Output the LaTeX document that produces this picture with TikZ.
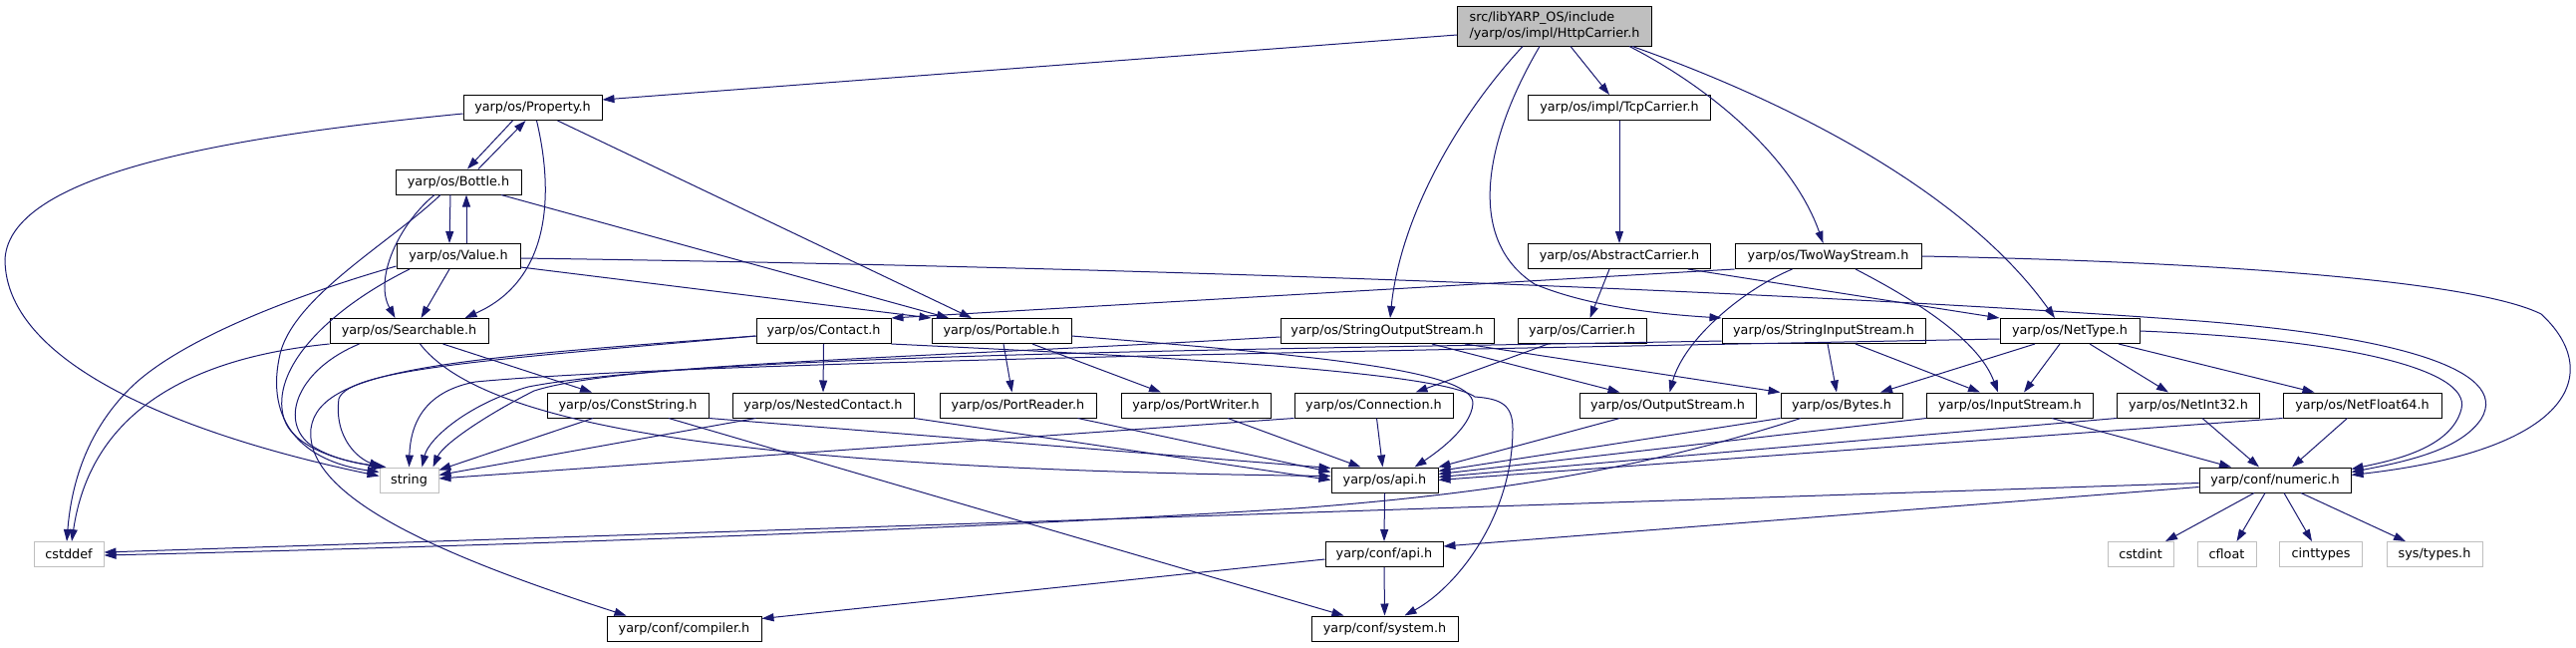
\documentclass[tikz,border=0pt]{standalone}
\usepackage{fontspec}
\setmainfont{DejaVu Sans}
\usetikzlibrary{arrows.meta}
\definecolor{edgec}{HTML}{191970}
\definecolor{grayb}{HTML}{BFBFBF}
\begin{document}
\begin{tikzpicture}[x=1pt,y=-1pt,
  box/.style={draw=black, line width=1pt, fill=white, minimum height=25pt, inner sep=0pt, font=\fontsize{12.8}{15.5}\selectfont},
  ext/.style={box, draw=grayb},
  e/.style={draw=edgec, line width=1pt, -{Triangle[length=12pt,width=8pt]}}]
\useasboundingbox (0,0) rectangle (2585,649);
% nodes
\node[box, fill=grayb, minimum width=195pt, minimum height=40pt, align=left] (http) at (1560,26) {src/libYARP\_OS/include\\/yarp/os/impl/HttpCarrier.h};
\node[box, minimum width=139pt] (prop) at (534.5,108) {yarp/os/Property.h};
\node[box, minimum width=126pt] (bottle) at (460,182.5) {yarp/os/Bottle.h};
\node[box, minimum width=124pt] (value) at (460,257) {yarp/os/Value.h};
\node[box, minimum width=159pt] (search) at (410.5,332) {yarp/os/Searchable.h};
\node[box, minimum width=135pt] (contact) at (826.5,332) {yarp/os/Contact.h};
\node[box, minimum width=140pt] (portable) at (1005,332) {yarp/os/Portable.h};
\node[box, minimum width=214pt] (sos) at (1392,332) {yarp/os/StringOutputStream.h};
\node[box, minimum width=129pt] (carrier) at (1587.5,332) {yarp/os/Carrier.h};
\node[box, minimum width=204pt] (sis) at (1830,332) {yarp/os/StringInputStream.h};
\node[box, minimum width=140pt] (nettype) at (2077,332) {yarp/os/NetType.h};
\node[box, minimum width=183pt] (tcp) at (1625,108) {yarp/os/impl/TcpCarrier.h};
\node[box, minimum width=183pt] (abstract) at (1625,257) {yarp/os/AbstractCarrier.h};
\node[box, minimum width=187pt] (twoway) at (1834.5,257) {yarp/os/TwoWayStream.h};
\node[box, minimum width=162pt] (conststr) at (630,406.5) {yarp/os/ConstString.h};
\node[box, minimum width=182pt] (nested) at (826,406.5) {yarp/os/NestedContact.h};
\node[box, minimum width=157pt] (preader) at (1021.5,406.5) {yarp/os/PortReader.h};
\node[box, minimum width=150pt] (pwriter) at (1200,406.5) {yarp/os/PortWriter.h};
\node[box, minimum width=159pt] (conn) at (1378.5,406.5) {yarp/os/Connection.h};
\node[box, minimum width=177pt] (ostream) at (1673.5,406.5) {yarp/os/OutputStream.h};
\node[box, minimum width=122pt] (bytes) at (1848,406.5) {yarp/os/Bytes.h};
\node[box, minimum width=167pt] (istream) at (2017,406.5) {yarp/os/InputStream.h};
\node[box, minimum width=143pt] (netint) at (2196,406.5) {yarp/os/NetInt32.h};
\node[box, minimum width=159pt] (netfloat) at (2370.5,406.5) {yarp/os/NetFloat64.h};
\node[ext, minimum width=59pt] (string) at (410.5,481.5) {string};
\node[box, minimum width=107pt] (osapi) at (1389.5,481.5) {yarp/os/api.h};
\node[box, minimum width=152pt] (numeric) at (2283,481.5) {yarp/conf/numeric.h};
\node[ext, minimum width=70pt] (cstddef) at (69,556) {cstddef};
\node[box, minimum width=118pt] (confapi) at (1389,556) {yarp/conf/api.h};
\node[ext, minimum width=66pt] (cstdint) at (2148,556) {cstdint};
\node[ext, minimum width=59pt] (cfloat) at (2234.5,556) {cfloat};
\node[ext, minimum width=83pt] (cinttypes) at (2329,556) {cinttypes};
\node[ext, minimum width=96pt] (systypes) at (2443,556) {sys/types.h};
\node[box, minimum width=155pt] (compiler) at (686.5,630.5) {yarp/conf/compiler.h};
\node[box, minimum width=147pt] (system) at (1389.5,630.5) {yarp/conf/system.h};
% edges from HttpCarrier
\draw[e] ([yshift=-9pt]http.west) -- ([yshift=8pt]prop.east);
\draw[e] ([xshift=-32pt]http.south) .. controls (1460,120) and (1405,220) .. ([xshift=3pt]sos.north);
\draw[e] ([xshift=-15pt]http.south) .. controls (1490,140) and (1470,240) .. (1540,285) .. controls (1600,310) and (1680,316) .. (sis.north west);
\draw[e] ([xshift=16pt]http.south) -- ([xshift=-10pt]tcp.north);
\draw[e] ([xshift=75pt]http.south) .. controls (1720,90) and (1800,160) .. ([xshift=-5pt]twoway.north);
\draw[e] ([xshift=78pt]http.south) .. controls (1790,100) and (1970,190) .. ([xshift=-15pt]nettype.north);
% Property
\draw[e] ([xshift=-20pt]prop.south) -- ([xshift=9pt]bottle.north);
\draw[e] ([xshift=20pt]bottle.north) -- ([xshift=-7pt]prop.south);
\draw[e] ([yshift=-6pt]prop.west) .. controls (250,135) and (10,170) .. (5,260) .. controls (5,370) and (200,440) .. ([yshift=4pt]string.west);
\draw[e] ([xshift=4pt]prop.south) .. controls (555,190) and (555,280) .. ([xshift=56pt]search.north);
\draw[e] ([xshift=25pt]prop.south) -- ([xshift=-30pt]portable.north);
% Bottle
\draw[e] ([xshift=-8pt]bottle.south) -- ([xshift=-9pt]value.north);
\draw[e] ([xshift=8pt]value.north) -- ([xshift=8pt]bottle.south);
\draw[e] ([xshift=-24pt]bottle.south) .. controls (400,225) and (375,280) .. ([xshift=-14pt]search.north);
\draw[e] ([xshift=-18pt]bottle.south) .. controls (390,245) and (290,300) .. (280,360) .. controls (268,420) and (300,462) .. ([yshift=8pt]string.west);
\draw[e] ([xshift=43pt]bottle.south) -- ([xshift=-53pt]portable.north);
% Value
\draw[e] ([xshift=-9pt]value.south) -- ([xshift=12pt]search.north);
\draw[e] ([yshift=2pt]value.south east) -- (portable.north west);
\draw[e] ([xshift=-49pt]value.south) .. controls (330,310) and (270,370) .. (285,420) .. controls (295,450) and (345,463) .. ([xshift=4pt]string.north west);
\draw[e] ([yshift=3pt]value.south west) .. controls (300,295) and (180,340) .. (130,390) .. controls (90,430) and (72,480) .. ([xshift=-2pt]cstddef.north);
\draw[e] ([yshift=-2pt]value.east) .. controls (1300,270) and (1900,300) .. (2180,320) .. controls (2400,335) and (2520,370) .. (2490,420) .. controls (2470,450) and (2420,462) .. ([yshift=8pt]numeric.east);
% Searchable
\draw[e] ([xshift=34pt]search.south) -- ([xshift=-36pt]conststr.north);
\draw[e] ([xshift=11pt]search.south) .. controls (480,420) and (700,470) .. ([yshift=4pt]osapi.west);
\draw[e] (search.south west) .. controls (180,360) and (90,420) .. ([xshift=3pt]cstddef.north);
\draw[e] ([xshift=-50pt]search.south) .. controls (300,370) and (280,420) .. (310,445) .. controls (330,460) and (360,465) .. ([xshift=7pt]string.north west);
% Contact
\draw[e] (contact.south) -- (nested.north);
\draw[e] ([yshift=-5pt]contact.west) .. controls (500,360) and (350,370) .. (340,400) .. controls (335,440) and (360,460) .. ([xshift=2pt]string.north west);
\draw[e] ([yshift=-5pt]contact.west) .. controls (450,360) and (320,370) .. (312,430) .. controls (305,500) and (450,560) .. ([xshift=-58pt]compiler.north);
\draw[e] (contact.south east) .. controls (1100,355) and (1440,370) .. (1480,398) .. controls (1505,400) and (1518,405) .. (1518,430) .. controls (1518,520) and (1460,590) .. ([xshift=20pt]system.north);
% Portable
\draw[e] ([yshift=-5pt]portable.east) .. controls (1300,355) and (1480,370) .. (1478,405) .. controls (1476,430) and (1440,455) .. ([xshift=30pt]osapi.north);
\draw[e] ([xshift=2pt]portable.south) -- ([xshift=-6pt]preader.north);
\draw[e] ([xshift=31pt]portable.south) -- ([xshift=-35pt]pwriter.north);
% third row
\draw[e] ([xshift=60pt]preader.south) -- ([yshift=8pt]osapi.west);
\draw[e] ([xshift=32pt]pwriter.south) -- ([xshift=-24pt]osapi.north);
\draw[e] (nested.south east) -- (osapi.west);
\draw[e] ([xshift=24pt]nested.south west) -- ([yshift=5pt]string.east);
\draw[e] ([xshift=-35pt]conststr.south) -- ([yshift=-3pt]string.north east);
\draw[e] (conststr.south east) -- ([yshift=12pt]osapi.west);
\draw[e] ([xshift=41pt]conststr.south) -- ([xshift=-41pt]system.north);
\draw[e] ([xshift=3pt]conn.south) -- ([xshift=-2pt]osapi.north);
\draw[e] (conn.south west) -- ([yshift=1.5pt]string.east);
% Carrier chain
\draw[e] ([xshift=-34pt]carrier.south) -- ([xshift=42pt]conn.north);
\draw[e] ([xshift=-10pt]abstract.south) -- ([xshift=8pt]carrier.north);
\draw[e] ([xshift=69pt]abstract.south) -- (nettype.north west);
\draw[e] (tcp.south) -- (abstract.north);
% TwoWayStream
\draw[e] (twoway.south west) -- (contact.north east);
\draw[e] ([xshift=-36pt]twoway.south) .. controls (1750,290) and (1690,340) .. ([xshift=2pt]ostream.north);
\draw[e] ([xshift=27.5pt]twoway.south) .. controls (1920,300) and (1985,340) .. ([xshift=-12pt]istream.north);
\draw[e] (twoway.east) .. controls (2200,262) and (2480,280) .. (2550,315) .. controls (2610,370) and (2590,450) .. ([yshift=5pt]numeric.east);
% StringOutputStream
\draw[e] ([xshift=45pt]sos.south) -- ([xshift=-48pt]ostream.north);
\draw[e] ([xshift=78pt]sos.south) -- (bytes.north west);
\draw[e] ([yshift=-6pt]sos.west) .. controls (900,360) and (620,365) .. (536,392) .. controls (490,415) and (445,445) .. ([xshift=24pt]string.north);
% StringInputStream
\draw[e] ([xshift=4pt]sis.south) -- ([xshift=-5pt]bytes.north);
\draw[e] ([xshift=32pt]sis.south) -- ([xshift=-30pt]istream.north);
\draw[e] ([yshift=-10pt]sis.west) .. controls (1300,350) and (700,355) .. (530,388) .. controls (470,405) and (430,440) .. ([xshift=13pt]string.north);
% NetType
\draw[e] ([yshift=-8pt]nettype.west) .. controls (1500,350) and (700,362) .. (477,383) .. controls (430,392) and (412,420) .. (string.north);
\draw[e] ([xshift=-35pt]nettype.south) -- ([xshift=39pt]bytes.north);
\draw[e] ([xshift=-10pt]nettype.south) -- ([xshift=14pt]istream.north);
\draw[e] ([xshift=20pt]nettype.south) -- ([xshift=-20pt]netint.north);
\draw[e] ([xshift=49pt]nettype.south) -- ([xshift=-48pt]netfloat.north);
\draw[e] (nettype.east) .. controls (2350,340) and (2480,370) .. (2470,410) .. controls (2460,450) and (2400,462) .. ([yshift=11pt]numeric.east);
% row 3 right
\draw[e] (bytes.south west) -- ([yshift=9pt]osapi.east);
\draw[e] ([xshift=-41pt]bytes.south) .. controls (1650,470) and (1500,495) .. (1300,510) .. controls (900,535) and (400,550) .. ([yshift=-1pt]cstddef.east);
\draw[e] ([yshift=-3pt]numeric.west) -- ([yshift=2pt]cstddef.east);
\draw[e] ([yshift=-7pt]numeric.west) -- ([yshift=8pt]confapi.east);
\draw[e] (istream.south west) -- ([yshift=6pt]osapi.east);
\draw[e] ([xshift=42pt]istream.south) -- ([xshift=-44pt]numeric.north);
\draw[e] (netint.south west) -- ([yshift=3pt]osapi.east);
\draw[e] ([xshift=14pt]netint.south) -- ([xshift=-16pt]numeric.north);
\draw[e] (netfloat.south west) -- (osapi.east);
\draw[e] ([xshift=-15pt]netfloat.south) -- ([xshift=17pt]numeric.north);
\draw[e] ([xshift=-48pt]ostream.south) -- (osapi.north east);
% numeric leaves
\draw[e] ([xshift=-21pt]numeric.south) -- ([xshift=25pt]cstdint.north);
\draw[e] ([xshift=-10pt]numeric.south) -- ([xshift=10pt]cfloat.north);
\draw[e] ([xshift=9pt]numeric.south) -- ([xshift=-9pt]cinttypes.north);
\draw[e] ([xshift=26pt]numeric.south) -- ([xshift=-29pt]systypes.north);
% bottom
\draw[e] (osapi.south) -- (confapi.north);
\draw[e] (confapi.south) -- (system.north);
\draw[e] ([yshift=-5pt]confapi.west) -- ([yshift=10pt]compiler.east);
\end{tikzpicture}
\end{document}
